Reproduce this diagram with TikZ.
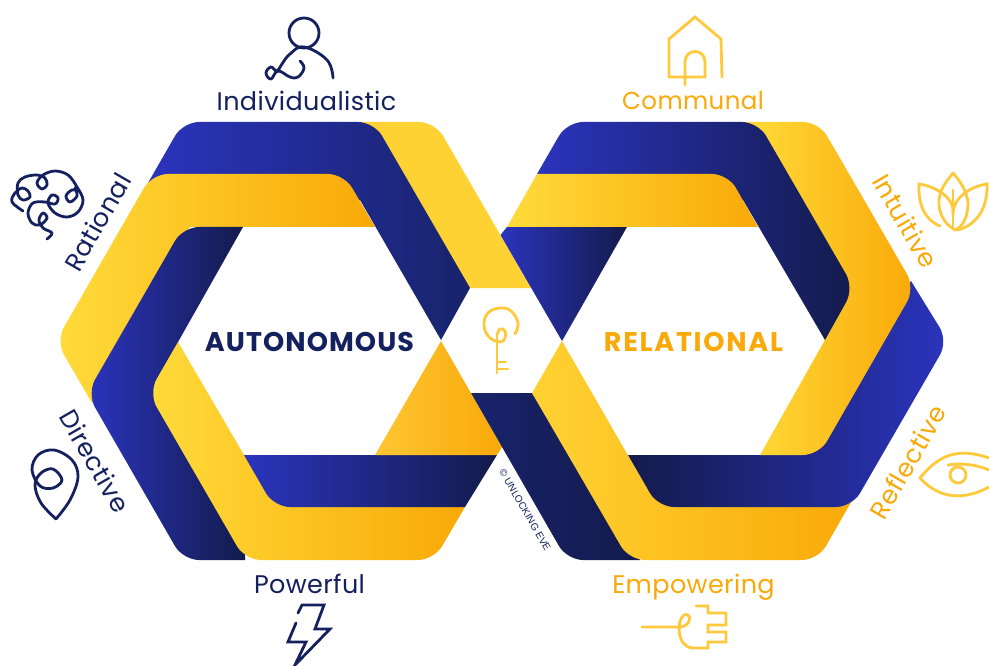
\documentclass[tikz,border=0pt]{standalone}
\usepackage{fontspec}
\setmainfont{Poppins}
\newfontfamily\capsfont[LetterSpace=4]{Poppins}
\newfontfamily\capswidefont[LetterSpace=6.5]{Poppins}
\newfontfamily\lblfont[LetterSpace=1.5]{Poppins}
\newfontfamily\smallfont{Liberation Sans}
\definecolor{bluelt}{HTML}{2B34BD}
\definecolor{navy}{HTML}{18236B}
\definecolor{navydk}{HTML}{131B4C}
\definecolor{yellt}{HTML}{FFDB3A}
\definecolor{yelmid}{HTML}{FFD233}
\definecolor{yeltri}{HTML}{FEC633}
\definecolor{orangec}{HTML}{F9A908}
\definecolor{ink}{HTML}{15205F}
\definecolor{iconyel}{HTML}{FFC93C}
\newcommand\gradfill[5]{\begin{scope}\clip #5;\shade[left color=#3,right color=#4] (#1,0) rectangle (#2,666);\end{scope}}
\tikzset{
  navyicon/.style={draw=ink,line width=2.8pt,line cap=round,line join=round},
  yelicon/.style={draw=iconyel,line width=2.8pt,line cap=round,line join=miter},
  lblnavy/.style={text=ink,anchor=base,font=\lblfont\fontsize{25.5}{25.5}\selectfont,inner sep=0pt},
  lblyel/.style={text=orangec,anchor=base,font=\lblfont\fontsize{25.5}{25.5}\selectfont,inner sep=0pt},
  rr/.style={rounded corners=16pt},
  ss/.style={sharp corners}
}
\begin{document}
\begin{tikzpicture}[x=1pt,y=-1pt]
\useasboundingbox (0,0) rectangle (989,666);
\fill[white] (0,0) rectangle (989,666);
% --- left loop
\gradfill{360}{535}{yelmid}{yelmid}{(360,122) [rr] -- (435,122) [ss] -- (531,288) -- (470,288) -- cycle}
\gradfill{148}{470}{bluelt}{navy}{(148,183) [rr] -- (183,122) -- (374,122) [ss] -- (470,288) -- (441,340) -- (360,200) -- (150,190) -- cycle}
\gradfill{56}{375}{yellt}{orangec}{(92,403) [rr] -- (56,341) -- (152,174) -- (344,174) [ss] -- (375,227) -- (190,227) -- (115,355) -- (110,395) -- cycle}
\gradfill{87}{245}{bluelt}{navydk}{(243,227) [rr] -- (183,227) -- (87,393.5) -- (183,560) [ss] -- (262,560) -- (190,400) -- (178,342) -- cycle}
\gradfill{148}{465}{yellt}{orangec}{(178,342) [rr] -- (148.6,393) -- (245,560) -- (434,560) [ss] -- (465,507) -- (300,490) -- (244,455) -- cycle}
\gradfill{244}{497}{bluelt}{navydk}{(244,455) -- (497,455) -- (465,507) [rr] -- (274,507) [ss] -- cycle}
\gradfill{375}{503}{yeltri}{orangec}{(441,341) -- (375,455) -- (497,455) -- (502,447) -- cycle}
% --- crossing diagonal
\gradfill{471}{640}{navy}{navydk}{(471,393) -- (532,393) -- (640,560) [rr] -- (567,560) [ss] -- cycle}
% --- right loop
\gradfill{500}{627}{bluelt}{navydk}{(507,227) -- (627,227) -- (562,341) -- (500.5,235) -- cycle}
\gradfill{532}{858}{yelmid}{orangec}{(562,341) -- (532,393) [rr] -- (629,560) -- (818,560) [ss] -- (858,490) -- (648,490) -- cycle}
\gradfill{628}{948}{navydk}{bluelt}{(911,281) [rr] -- (948,341) -- (852,507) -- (658,507) [ss] -- (628,455) -- (780,455) -- cycle}
\gradfill{745}{915}{yellt}{orangec}{(745,122) [rr] -- (819,122) -- (915,288) -- (819,455) [ss] -- (760,455) -- (825,340) -- (790,250) -- cycle}
\gradfill{537}{854}{bluelt}{navydk}{(537,174) [rr] -- (567,122) -- (758,122) -- (854,288) [ss] -- (825,340) -- (743,200) -- (540,190) -- cycle}
\gradfill{507}{758}{yellt}{orangec}{(537,174) [rr] -- (728,174) [ss] -- (758,227) -- (507,227) -- cycle}
% --- labels
\node[lblnavy] (individ) at (306.5,111) {Individualistic};
\node[lblnavy] (power) at (309.5,593) {Powerful};
\node[lblyel,font=\lblfont\fontsize{24.5}{24.5}\selectfont] (commun) at (693,110) {Communal};
\node[lblyel] (empow) at (693.5,593) {Empowering};
\node[lblnavy,anchor=center,rotate=60] (ratio) at (97.5,222) {Rational};
\node[lblnavy,anchor=center,rotate=-60] (direct) at (95,461) {Directive};
\node[lblyel,anchor=center,rotate=-60] (intuit) at (905.5,221) {Intuitive};
\node[lblyel,anchor=center,rotate=60] (reflect) at (907.5,462) {Reflective};
\node[anchor=base,inner sep=0pt,text=ink,font=\capsfont\bfseries\fontsize{27}{27}\selectfont] (auton) at (309.5,351) {AUTONOMOUS};
\node[anchor=base,inner sep=0pt,text=orangec,font=\capswidefont\bfseries\fontsize{27}{27}\selectfont] (relat) at (693.5,351) {RELATIONAL};
\node[anchor=center,inner sep=0pt,text=ink,rotate=-60,font=\smallfont\fontsize{10}{10}\selectfont] (copyr) at (525,510) {© UNLOCKING EVE};
% --- icons: person
\draw[navyicon] (304,33) circle (15);
\draw[navyicon] plot[smooth,tension=.7] coordinates {(333,78) (327,60) (304,47) (290,54) (282,64) (277,71) (271,67) (266,73) (271,79) (278,71) (290,77) (298,77) (304,68) (300,61)};
% brain
\draw[navyicon] plot[smooth,tension=.6] coordinates {(23,211) (12,202) (15,193) (22,188) (28,191) (30,197) (23,200) (18,195) (18,183) (25,177) (37,175) (45,178) (47,185) (42,189) (37,183) (43,175) (55,171) (68,175) (77,187) (83,200) (78,212) (67,217) (55,213) (48,203) (52,195) (58,198) (55,204) (45,202) (33,203) (28,213) (32,223) (40,225) (47,218) (43,213) (39,220) (43,228) (52,233) (47,239)};
\draw[navyicon] plot[smooth,tension=.6] coordinates {(79,191) (72,190) (66,196) (70,202) (77,196) (75,188)};
% pin
\draw[navyicon] plot[smooth,tension=.6] coordinates {(56,519) (70,500) (78,477) (72,460) (54,450) (38,455) (32,470) (40,486) (53,488) (62,480) (53,469) (41,473) (35,485) (41,503) (56,519)};
% bolt
\draw[navyicon,line join=miter] (298,613) -- (302,605) -- (324,605) -- (315,629) -- (330,629) -- (295,665) -- (306,642) -- (288,642) -- (296,623);
% house
\draw[yelicon] (722,77) -- (721,39) -- (695,17) -- (669,39) -- (669,77) -- (705,77) -- (705,62) .. controls (705,48) and (685,48) .. (685,62) -- (685,85);
% lotus
\draw[yelicon] (953,173) .. controls (945,183) and (938,192) .. (939,205) .. controls (940,218) and (948,226) .. (955,230) .. controls (964,226) and (968,215) .. (968,203) .. controls (967,191) and (960,181) .. (953,173);
\draw[yelicon] (953,190) -- (953,227);
\draw[yelicon] (940,226) .. controls (925,220) and (918,205) .. (919,184) .. controls (933,186) and (955,196) .. (953,214);
\draw[yelicon] (957,230) .. controls (975,226) and (988,210) .. (987,184) .. controls (973,186) and (953,196) .. (953,214);
% eye
\draw[yelicon] (989,458) .. controls (960,448) and (940,453) .. (920,478) .. controls (940,500) and (965,500) .. (989,487);
\draw[yelicon] (958,475) circle (8);
\draw[yelicon] (948,465) .. controls (960,463) and (975,464) .. (989,470);
% plug
\draw[yelicon] (642,627) -- (680,627) .. controls (692,626) and (692,612) .. (684,615) .. controls (676,620) and (677,648) .. (693,648) -- (708,648) -- (708,642) -- (726,642) -- (726,632) -- (708,632) -- (708,625) -- (726,625) -- (726,613) -- (708,613) -- (708,606) -- (696,606);
% key
\draw[yelicon] plot[smooth,tension=.7] coordinates {(515,334) (518,323) (511,311) (500,308) (488,313) (484,325) (489,337) (500,342) (505,338) (505,331) (500,329) (497,335)};
\draw[yelicon] (497,335) -- (497,373);
\draw[yelicon] (497,362) -- (506,362);
\draw[yelicon] (497,369) -- (508,369);
\end{tikzpicture}
\end{document}
